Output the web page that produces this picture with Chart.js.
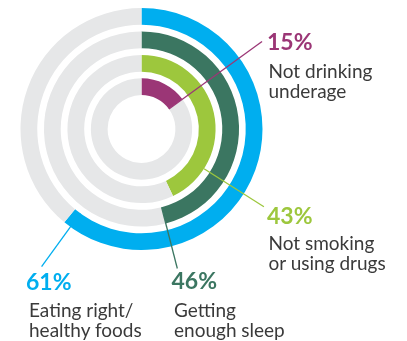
<!DOCTYPE html>
<html>
<head>
<meta charset="utf-8">
<script src="https://cdn.jsdelivr.net/npm/chart.js@4.4.0/dist/chart.umd.min.js"></script>
<style>
  html, body { margin: 0; padding: 0; background: #fff; }
  #wrap { position: relative; width: 407px; height: 341px; overflow: hidden; }
  #ringChart { position: absolute; left: 0; top: 0; }
  .pct { position: absolute; font-family: Lato, sans-serif; font-weight: 700; font-size: 23px; line-height: 23px; white-space: nowrap; }
  .txt { position: absolute; font-family: Lato, sans-serif; font-size: 19px; line-height: 20px; color: #3a3a3a; white-space: nowrap; }
</style>
</head>
<body>
<div id="wrap">
  <canvas id="ringChart" width="407" height="341"></canvas>
  <div id="labels"></div>
</div>
<script>
// outer ring first
const categories = ['Eating right/\nhealthy foods', 'Getting\nenough sleep', 'Not smoking\nor using drugs', 'Not drinking\nunderage'];
const values = [61, 46, 43, 15];
const colors = ['#00aeef', '#3b7661', '#9dc73d', '#9b3676'];
const trackColor = '#e6e7e8';

// label boxes (left, top of percent / text)
const labelPos = [
    { x: 26, y: 269.5, tx: 29, ty: 300 },
    { x: 171.5, y: 269, tx: 174, ty: 300 },
    { x: 267, y: 204, tx: 268.5, ty: 232.5 },
    { x: 267, y: 29.5, tx: 268.5, ty: 60.5 }
];
// leader lines: angle (fraction of circle, null = end of arc), start edge, end radius
const leaders = [
    { at: 0.60, edge: 'inner', to: 170 },
    { at: null, edge: 'inner', to: 144 },
    { at: 0.34, edge: 'outer', to: 145 },
    { at: null, edge: 'inner', to: 149 }
];

const labels = document.getElementById('labels');
categories.forEach((c, i) => {
    let p = labelPos[i];
    let temp = `<div class="pct" style="left:${p.x}px;top:${p.y}px;color:${colors[i]}">${values[i]}%</div>
                <div class="txt" style="left:${p.tx}px;top:${p.ty}px">${c.replace('\n', '<br>')}</div>`;
    labels.insertAdjacentHTML('beforeend', temp);
});

let datasets = [];
values.forEach((v, i) => {
    if (i > 0) {
        datasets.push({ data: [100], backgroundColor: ['rgba(0,0,0,0)'], weight: 2, borderWidth: 0, spacer: true });
    }
    datasets.push({
        data: [v, 100 - v],
        backgroundColor: [colors[i], trackColor],
        weight: 5,
        borderWidth: 0,
        ring: i
    });
});

const leaderPlugin = {
    id: 'leaders',
    afterDatasetsDraw(chart) {
        const ctx = chart.ctx;
        chart.data.datasets.forEach((ds, di) => {
            if (ds.ring === undefined) return;
            const arc = chart.getDatasetMeta(di).data[0];
            const l = leaders[ds.ring];
            const a = l.at === null ? arc.endAngle : arc.startAngle + l.at * Math.PI * 2;
            const r0 = l.edge === 'inner' ? arc.innerRadius : arc.outerRadius;
            ctx.save();
            ctx.strokeStyle = colors[ds.ring];
            ctx.lineWidth = 1.3;
            ctx.beginPath();
            ctx.moveTo(arc.x + Math.cos(a) * r0, arc.y + Math.sin(a) * r0);
            ctx.lineTo(arc.x + Math.cos(a) * l.to, arc.y + Math.sin(a) * l.to);
            ctx.stroke();
            ctx.restore();
        });
    }
};

new Chart(document.getElementById('ringChart'), {
    type: 'doughnut',
    data: { labels: ['value', 'rest'], datasets: datasets },
    options: {
        responsive: false,
        animation: false,
        cutout: '28%',
        hoverOffset: 0,
        layout: { padding: { left: 20, top: 8, right: 144, bottom: 91 } },
        plugins: { legend: { display: false }, tooltip: { enabled: false } }
    },
    plugins: [leaderPlugin]
});
</script>
</body>
</html>
